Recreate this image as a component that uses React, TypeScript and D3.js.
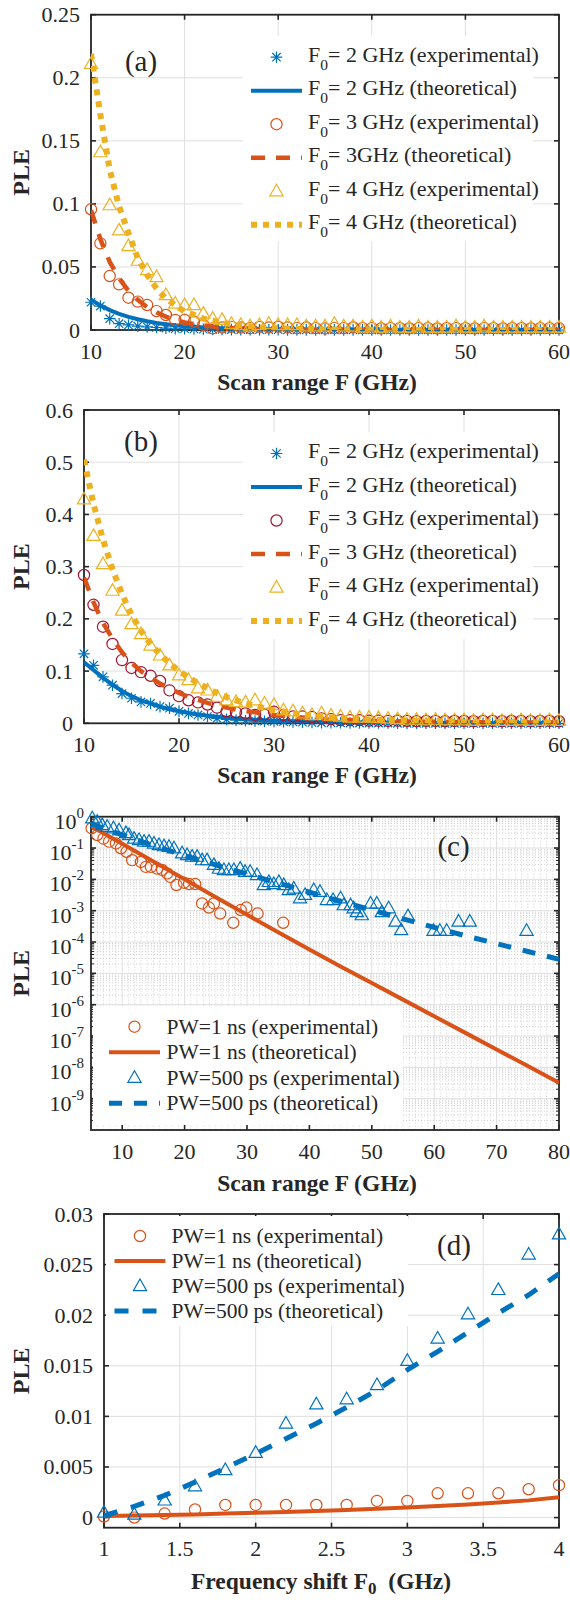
import React from "react";
import * as d3 from "d3";

const FONT = '"Liberation Serif", "Times New Roman", "DejaVu Serif", serif';
const BLUE = "#0072BD";
const ORANGE = "#D95319";
const YELLOW = "#EDB120";
const DARKRED = "#A2142F";
const AXIS = "#262626";
const GRID = "#dfdfdf";
const MINOR = "#c8c8c8";

// ---------- Panel (a) / (b) : scan range F (GHz) ----------
const scanRange = [10, 11, 12, 13, 14, 15, 16, 17, 18, 19, 20, 21, 22, 23, 24, 25, 26, 27, 28, 29, 30, 31, 32, 33, 34, 35, 36, 37, 38, 39, 40, 41, 42, 43, 44, 45, 46, 47, 48, 49, 50, 51, 52, 53, 54, 55, 56, 57, 58, 59, 60];

const aExpF2 = [0.022, 0.019, 0.009, 0.005, 0.004, 0.003, 0.0025, 0.002, 0.0015, 0.001, 0.001, 0.0008, 0.0006, 0.0005, 0.0004, 0.0003, 0.0003, 0.0002, 0.0002, 0.0002, 0.0002, 0.0001, 0.0001, 0.0001, 0.0001, 0.0001, 0.0001, 0.0001, 0.0001, 0.0001, 0.0001, 0, 0, 0, 0, 0, 0, 0, 0, 0, 0, 0, 0, 0, 0, 0, 0, 0, 0, 0, 0];
const aTheoF2 = [0.024, 0.0195, 0.0158, 0.0128, 0.0104, 0.0085, 0.0069, 0.0056, 0.0046, 0.0037, 0.003, 0.0025, 0.002, 0.0016, 0.0013, 0.0011, 0.0009, 0.0007, 0.0006, 0.0005, 0.0004, 0.0003, 0.0003, 0.0002, 0.0002, 0.0002, 0.0001, 0.0001, 0.0001, 0.0001, 0.0001, 0.0001, 0, 0, 0, 0, 0, 0, 0, 0, 0, 0, 0, 0, 0, 0, 0, 0, 0, 0, 0];
const aExpF3 = [0.0957, 0.0687, 0.0428, 0.0362, 0.0256, 0.0225, 0.0198, 0.015, 0.0119, 0.008, 0.008, 0.0066, 0.004, 0.0013, 0.002, 0.0025, 0.002, 0.0015, 0.0025, 0.002, 0.0026, 0.002, 0.0015, 0.002, 0.0015, 0.0012, 0.0015, 0.0015, 0.002, 0.0015, 0.0015, 0.0012, 0.0015, 0.0015, 0.0012, 0.0015, 0.0015, 0.0012, 0.0015, 0.0015, 0.0015, 0.0012, 0.0015, 0.0015, 0.0012, 0.0015, 0.0015, 0.0012, 0.0015, 0.0015, 0.0015];
const aTheoF3 = [0.095, 0.072, 0.054, 0.041, 0.031, 0.024, 0.018, 0.014, 0.0105, 0.008, 0.006, 0.0047, 0.0036, 0.0027, 0.0021, 0.0016, 0.0012, 0.0009, 0.0007, 0.0005, 0.0004, 0.0003, 0.0002, 0.0002, 0.0001, 0.0001, 0.0001, 0.0001, 0, 0, 0, 0, 0, 0, 0, 0, 0, 0, 0, 0, 0, 0, 0, 0, 0, 0, 0, 0, 0, 0, 0];
const aExpF4 = [0.211, 0.141, 0.099, 0.079, 0.0666, 0.055, 0.0476, 0.042, 0.0277, 0.021, 0.0198, 0.0198, 0.013, 0.009, 0.008, 0.005, 0.004, 0.003, 0.004, 0.005, 0.004, 0.004, 0.004, 0.003, 0.003, 0.003, 0.005, 0.003, 0.003, 0.002, 0.003, 0.002, 0.003, 0.002, 0.002, 0.003, 0.002, 0.002, 0.002, 0.003, 0.002, 0.002, 0.003, 0.002, 0.002, 0.002, 0.002, 0.002, 0.002, 0.002, 0.002];
const aTheoF4 = [0.219, 0.171, 0.127, 0.098, 0.077, 0.057, 0.0436, 0.033, 0.025, 0.0198, 0.0145, 0.012, 0.009, 0.0074, 0.0058, 0.0045, 0.0035, 0.0028, 0.0022, 0.0017, 0.0013, 0.001, 0.0008, 0.0006, 0.0005, 0.0004, 0.0003, 0.0003, 0.0002, 0.0002, 0.0002, 0.0001, 0.0001, 0.0001, 0.0001, 0.0001, 0.0001, 0, 0, 0, 0, 0, 0, 0, 0, 0, 0, 0, 0, 0, 0];

const bExpF2 = [0.133, 0.111, 0.089, 0.073, 0.057, 0.048, 0.041, 0.038, 0.032, 0.029, 0.023, 0.019, 0.016, 0.013, 0.0095, 0.0076, 0.006, 0.005, 0.0045, 0.004, 0.0035, 0.003, 0.0025, 0.002, 0.0015, 0.001, 0.001, 0.001, 0.0005, 0.0005, 0.0005, 0.0005, 0.0005, 0, 0, 0, 0, 0, 0, 0, 0, 0, 0, 0, 0, 0, 0, 0, 0, 0, 0];
const bTheoF2 = [0.117, 0.102, 0.087, 0.074, 0.062, 0.052, 0.044, 0.038, 0.032, 0.027, 0.023, 0.0197, 0.017, 0.0146, 0.0125, 0.0107, 0.0092, 0.0079, 0.0068, 0.0058, 0.005, 0.0043, 0.0037, 0.0032, 0.0028, 0.0024, 0.0021, 0.0018, 0.0016, 0.0014, 0.0012, 0.0011, 0.001, 0.0009, 0.0008, 0.0007, 0.0006, 0.0006, 0.0005, 0.0005, 0.0004, 0.0004, 0.0004, 0.0003, 0.0003, 0.0003, 0.0003, 0.0002, 0.0002, 0.0002, 0.0002];
const bExpF3 = [0.284, 0.227, 0.185, 0.152, 0.121, 0.106, 0.098, 0.091, 0.081, 0.063, 0.052, 0.044, 0.04, 0.036, 0.03, 0.023, 0.021, 0.019, 0.016, 0.017, 0.022, 0.016, 0.013, 0.013, 0.012, 0.0095, 0.008, 0.006, 0.006, 0.006, 0.005, 0.005, 0.0045, 0.005, 0.0045, 0.004, 0.0045, 0.0045, 0.004, 0.0045, 0.0045, 0.004, 0.0045, 0.0045, 0.004, 0.0045, 0.0045, 0.004, 0.0045, 0.0045, 0.004];
const bTheoF3 = [0.279, 0.232, 0.192, 0.162, 0.136, 0.116, 0.1, 0.088, 0.076, 0.067, 0.058, 0.051, 0.045, 0.039, 0.034, 0.03, 0.026, 0.0235, 0.021, 0.018, 0.016, 0.014, 0.0125, 0.011, 0.0097, 0.0086, 0.0077, 0.0069, 0.0062, 0.0055, 0.005, 0.0046, 0.0042, 0.0039, 0.0036, 0.0033, 0.0031, 0.0029, 0.0027, 0.0025, 0.0023, 0.0022, 0.0021, 0.002, 0.0019, 0.0018, 0.0017, 0.0016, 0.0015, 0.0014, 0.0013];
const bExpF4 = [0.429, 0.359, 0.305, 0.254, 0.216, 0.19, 0.171, 0.149, 0.13, 0.111, 0.092, 0.083, 0.067, 0.063, 0.051, 0.044, 0.041, 0.04, 0.044, 0.038, 0.035, 0.025, 0.023, 0.019, 0.016, 0.019, 0.015, 0.013, 0.011, 0.011, 0.011, 0.01, 0.009, 0.008, 0.007, 0.007, 0.006, 0.007, 0.006, 0.006, 0.006, 0.005, 0.006, 0.006, 0.005, 0.005, 0.006, 0.005, 0.005, 0.006, 0.005];
const bTheoF4 = [0.505, 0.42, 0.352, 0.295, 0.248, 0.208, 0.177, 0.152, 0.132, 0.115, 0.1, 0.088, 0.077, 0.067, 0.058, 0.05, 0.044, 0.038, 0.033, 0.029, 0.025, 0.022, 0.019, 0.0167, 0.0147, 0.013, 0.0115, 0.0102, 0.0091, 0.0082, 0.0074, 0.0067, 0.0061, 0.0056, 0.0051, 0.0047, 0.0043, 0.004, 0.0037, 0.0034, 0.0032, 0.003, 0.0028, 0.0026, 0.0025, 0.0024, 0.0023, 0.0022, 0.0021, 0.002, 0.002];

// ---------- Panel (c) : log scale ----------
const cExp1ns_F = [5.1, 6.0, 7.0, 7.9, 9.0, 9.8, 10.7, 11.6, 13.0, 13.8, 14.6, 15.6, 16.4, 17.2, 17.7, 18.7, 19.9, 20.7, 21.7, 22.8, 23.9, 24.7, 25.7, 27.8, 29.0, 29.9, 31.7, 35.8];
const cExp1ns_PLE = [0.43, 0.26, 0.2, 0.16, 0.14, 0.098, 0.076, 0.041, 0.036, 0.025, 0.025, 0.022, 0.02, 0.0155, 0.012, 0.0066, 0.0078, 0.0071, 0.0071, 0.0017, 0.00126, 0.0017, 0.00081, 0.00041, 0.00105, 0.00126, 0.00081, 0.00041];
const cExp500_F = [5.2, 6.0, 6.8, 7.6, 8.6, 9.5, 10.6, 11.1, 11.9, 12.7, 13.5, 14.3, 15.1, 15.9, 16.7, 17.5, 18.3, 19.6, 20.4, 21.2, 22.0, 22.8, 23.6, 24.7, 25.5, 26.3, 27.1, 27.9, 28.9, 29.7, 30.5, 31.6, 32.7, 33.5, 34.3, 35.1, 35.9, 36.7, 37.5, 38.5, 39.3, 40.7, 41.7, 42.8, 43.8, 45.0, 45.5, 46.6, 47.1, 47.6, 48.4, 49.8, 50.8, 51.6, 52.7, 53.8, 54.7, 55.8, 59.9, 60.9, 62.0, 63.9, 65.7, 74.8];
const cExp500_PLE = [0.89, 0.69, 0.54, 0.48, 0.43, 0.37, 0.3, 0.26, 0.2, 0.18, 0.16, 0.16, 0.14, 0.125, 0.115, 0.11, 0.098, 0.068, 0.06, 0.053, 0.053, 0.041, 0.041, 0.029, 0.022, 0.02, 0.02, 0.02, 0.022, 0.0175, 0.0175, 0.0138, 0.0066, 0.0083, 0.0071, 0.0083, 0.0066, 0.0046, 0.0051, 0.0025, 0.0032, 0.0046, 0.004, 0.0022, 0.0022, 0.0025, 0.0015, 0.0015, 0.0012, 0.0009, 0.00072, 0.0017, 0.0017, 0.0009, 0.0012, 0.00045, 0.00024, 0.00067, 0.00023, 0.00023, 0.00023, 0.00045, 0.00045, 0.00023];
const cTheo_F = [5, 10, 15, 20, 25, 30, 35, 40, 45, 50, 55, 60, 65, 70, 75, 80];
const cTheo1ns = [0.5, 0.138, 0.0372, 0.01, 0.00269, 7.4e-4, 2.04e-4, 5.75e-5, 1.66e-5, 4.9e-6, 1.45e-6, 4.27e-7, 1.26e-7, 3.7e-8, 1.1e-8, 3.2e-9];
const cTheo500 = [0.6, 0.263, 0.12, 0.0575, 0.0288, 0.0148, 0.0076, 0.0039, 0.002, 0.00105, 5.5e-4, 2.95e-4, 1.58e-4, 8.9e-5, 5.0e-5, 2.8e-5];

// ---------- Panel (d) : frequency shift ----------
const freqShift = [1, 1.2, 1.4, 1.6, 1.8, 2, 2.2, 2.4, 2.6, 2.8, 3, 3.2, 3.4, 3.6, 3.8, 4];
const dExp1ns = [0.0001, 0, 0.0004, 0.0008, 0.00125, 0.00125, 0.00125, 0.00125, 0.00125, 0.00165, 0.00165, 0.0024, 0.0024, 0.0024, 0.0028, 0.0032];
const dTheo1ns = [0.00015, 0.0002, 0.00025, 0.0003, 0.0004, 0.00048, 0.00056, 0.00065, 0.00075, 0.00088, 0.001, 0.00115, 0.0013, 0.0015, 0.0017, 0.002];
const dExp500 = [0.0005, 0.0003, 0.0017, 0.0031, 0.0047, 0.0064, 0.0093, 0.0112, 0.0117, 0.0131, 0.0155, 0.0177, 0.0201, 0.0225, 0.026, 0.028];
const dTheo500 = [0.0002, 0.0011, 0.0022, 0.0035, 0.0049, 0.0063, 0.0078, 0.0093, 0.0109, 0.0126, 0.0146, 0.0164, 0.0183, 0.0202, 0.022, 0.0241];

// ---------- ticks ----------
const abXTicks = [10, 20, 30, 40, 50, 60];
const aYTicks = [0, 0.05, 0.1, 0.15, 0.2, 0.25];
const aYLabels = ["0", "0.05", "0.1", "0.15", "0.2", "0.25"];
const bYTicks = [0, 0.1, 0.2, 0.3, 0.4, 0.5, 0.6];
const bYLabels = ["0", "0.1", "0.2", "0.3", "0.4", "0.5", "0.6"];
const cXTicks = [10, 20, 30, 40, 50, 60, 70, 80];
const cYExps = [0, -1, -2, -3, -4, -5, -6, -7, -8, -9];
const dXTicks = [1, 1.5, 2, 2.5, 3, 3.5, 4];
const dXLabels = ["1", "1.5", "2", "2.5", "3", "3.5", "4"];
const dYTicks = [0, 0.005, 0.01, 0.015, 0.02, 0.025, 0.03];
const dYLabels = ["0", "0.005", "0.01", "0.015", "0.02", "0.025", "0.03"];

type MarkerKind = "star" | "circle" | "triangle";

function Marker({ kind, x, y, color }: { kind: MarkerKind; x: number; y: number; color: string }) {
  if (kind === "circle") return <circle cx={x} cy={y} r={5.6} fill="none" stroke={color} strokeWidth={1.2} />;
  if (kind === "triangle")
    return <path d={`M${x},${y - 7}L${x + 6.6},${y + 4.6}L${x - 6.6},${y + 4.6}Z`} fill="none" stroke={color} strokeWidth={1.2} />;
  const r = 5.8, q = r * 0.72;
  return (
    <path
      d={`M${x - r},${y}L${x + r},${y}M${x},${y - r}L${x},${y + r}M${x - q},${y - q}L${x + q},${y + q}M${x - q},${y + q}L${x + q},${y - q}`}
      stroke={color}
      strokeWidth={1.2}
    />
  );
}

type Series =
  | { type: "marker"; x: number[]; y: number[]; color: string; marker: MarkerKind }
  | { type: "line"; x: number[]; y: number[]; color: string; width: number; dash?: string };

type LegendItem = { sym: Series; label: React.ReactNode };

interface PanelProps {
  id: string;
  left: number; right: number; top: number; bottom: number;
  xDomain: [number, number];
  yDomain: [number, number];
  yLog?: boolean;
  xTicks: number[]; xLabels: string[];
  yTicks: number[]; yLabels?: string[]; yExps?: number[];
  series: Series[];
  legend: { bg: [number, number, number, number]; x0: number; x1: number; xm: number; xt: number; base0: number; step: number; symDy: number; fs: number; items: LegendItem[] };
  tag: string; tagX: number; tagY: number;
  xlabel: React.ReactNode; xlabelX: number; xlabelY: number;
}

const txt = { fontFamily: FONT } as React.CSSProperties;

function Panel(p: PanelProps) {
  const x = d3.scaleLinear().domain(p.xDomain).range([p.left, p.right]);
  const y = p.yLog
    ? d3.scaleLog().domain(p.yDomain).range([p.bottom, p.top])
    : d3.scaleLinear().domain(p.yDomain).range([p.bottom, p.top]);
  const w = p.right - p.left, h = p.bottom - p.top;
  const clipId = `clip-${p.id}`;
  const tk = 5;

  const minorX: number[] = [];
  const minorY: number[] = [];
  if (p.yLog) {
    for (let v = Math.ceil(p.xDomain[0]); v <= p.xDomain[1]; v += 1) if (v % 10 !== 0) minorX.push(v);
    for (let e = -10; e < 0; e++) for (let m = 2; m <= 9; m++) minorY.push(m * Math.pow(10, e));
  }

  return (
    <g>
      <defs>
        <clipPath id={clipId}>
          <rect x={p.left} y={p.top} width={w} height={h} />
        </clipPath>
      </defs>
      <rect x={p.left} y={p.top} width={w} height={h} fill="#fff" />
      {minorX.map((v) => (
        <line key={`mx${v}`} x1={x(v)} x2={x(v)} y1={p.top} y2={p.bottom} stroke={MINOR} strokeWidth={0.8} strokeDasharray="1,2" />
      ))}
      {minorY.map((v, i) => (
        <line key={`my${i}`} x1={p.left} x2={p.right} y1={y(v)} y2={y(v)} stroke={MINOR} strokeWidth={0.8} strokeDasharray="1,2" />
      ))}
      {p.xTicks.map((v) => (
        <line key={`gx${v}`} x1={x(v)} x2={x(v)} y1={p.top} y2={p.bottom} stroke={GRID} strokeWidth={1} />
      ))}
      {p.yTicks.map((v) => (
        <line key={`gy${v}`} x1={p.left} x2={p.right} y1={y(v)} y2={y(v)} stroke={GRID} strokeWidth={1} />
      ))}
      {p.xTicks.map((v) => (
        <g key={`tx${v}`}>
          <line x1={x(v)} x2={x(v)} y1={p.bottom} y2={p.bottom - tk} stroke={AXIS} strokeWidth={1.6} />
          <line x1={x(v)} x2={x(v)} y1={p.top} y2={p.top + tk} stroke={AXIS} strokeWidth={1.6} />
        </g>
      ))}
      {p.yTicks.map((v) => (
        <g key={`ty${v}`}>
          <line x1={p.left} x2={p.left + tk} y1={y(v)} y2={y(v)} stroke={AXIS} strokeWidth={1.6} />
          <line x1={p.right} x2={p.right - tk} y1={y(v)} y2={y(v)} stroke={AXIS} strokeWidth={1.6} />
        </g>
      ))}
      {minorY.map((v, i) => (
        <g key={`tmy${i}`}>
          <line x1={p.left} x2={p.left + 3} y1={y(v)} y2={y(v)} stroke={AXIS} strokeWidth={1} />
          <line x1={p.right} x2={p.right - 3} y1={y(v)} y2={y(v)} stroke={AXIS} strokeWidth={1} />
        </g>
      ))}
      <rect x={p.left} y={p.top} width={w} height={h} fill="none" stroke={AXIS} strokeWidth={1.8} />

      {p.series.map((s, i) => {
        if (s.type === "line") {
          const line = d3.line<number>().x((_, j) => x(s.x[j])).y((v) => y(v));
          return (
            <path key={i} d={line(s.y) || ""} fill="none" stroke={s.color} strokeWidth={s.width} strokeDasharray={s.dash} clipPath={`url(#${clipId})`} />
          );
        }
        return (
          <g key={i}>
            {s.y.map((v, j) => (
              <Marker key={j} kind={s.marker} x={x(s.x[j])} y={y(v)} color={s.color} />
            ))}
          </g>
        );
      })}

      {p.xTicks.map((v, i) => (
        <text key={`lx${v}`} x={x(v)} y={p.bottom + 28.5} textAnchor="middle" fontSize={22} style={txt} fill={AXIS}>
          {p.xLabels[i]}
        </text>
      ))}
      {p.yLabels &&
        p.yTicks.map((v, i) => (
          <text key={`ly${v}`} x={p.left - 11} y={y(v) + 7.5} textAnchor="end" fontSize={22} style={txt} fill={AXIS}>
            {p.yLabels![i]}
          </text>
        ))}
      {p.yExps &&
        p.yTicks.map((v, i) => (
          <text key={`le${v}`} x={p.left - 7} y={y(v) + 12} textAnchor="end" fontSize={22} style={txt} fill={AXIS}>
            10
            <tspan fontSize={15} dy={-11}>{String(p.yExps![i])}</tspan>
          </text>
        ))}

      <text
        x={29.5}
        y={(p.top + p.bottom) / 2}
        transform={`rotate(-90, 29.5, ${(p.top + p.bottom) / 2})`}
        textAnchor="middle"
        fontSize={24}
        fontWeight="bold"
        style={txt}
        fill={AXIS}
      >
        PLE
      </text>
      <text x={p.xlabelX} y={p.xlabelY} textAnchor="middle" fontSize={23.5} fontWeight="bold" style={txt} fill={AXIS}>
        {p.xlabel}
      </text>

      <rect x={p.legend.bg[0]} y={p.legend.bg[1]} width={p.legend.bg[2]} height={p.legend.bg[3]} fill="#fff" />
      {p.legend.items.map((it, i) => {
        const by = p.legend.base0 + i * p.legend.step;
        const sy = by + p.legend.symDy;
        const s = it.sym;
        return (
          <g key={`lg${i}`}>
            {s.type === "line" ? (
              <line x1={p.legend.x0} x2={p.legend.x1} y1={sy} y2={sy} stroke={s.color} strokeWidth={s.width} strokeDasharray={s.dash} />
            ) : (
              <Marker kind={s.marker} x={p.legend.xm} y={sy} color={s.color} />
            )}
            <text x={p.legend.xt} y={by} fontSize={p.legend.fs} style={txt} fill={AXIS}>
              {it.label}
            </text>
          </g>
        );
      })}

      <text x={p.tagX} y={p.tagY} textAnchor="middle" fontSize={29} style={txt} fill={AXIS}>
        {p.tag}
      </text>
    </g>
  );
}

function F0(rest: string) {
  return (
    <>
      F<tspan fontSize={15.5} dy={8}>0</tspan>
      <tspan dy={-8}>{rest}</tspan>
    </>
  );
}

export default function App() {
  const abLegendX = { x0: 251, x1: 302, xm: 276.5, xt: 308, step: 33.5, symDy: -4.5, fs: 22 };

  const aSeries: Series[] = [
    { type: "marker", x: scanRange, y: aExpF2, color: BLUE, marker: "star" },
    { type: "line", x: scanRange, y: aTheoF2, color: BLUE, width: 4 },
    { type: "marker", x: scanRange, y: aExpF3, color: ORANGE, marker: "circle" },
    { type: "line", x: scanRange, y: aTheoF3, color: ORANGE, width: 4.5, dash: "14,11" },
    { type: "marker", x: scanRange, y: aExpF4, color: YELLOW, marker: "triangle" },
    { type: "line", x: scanRange, y: aTheoF4, color: YELLOW, width: 6, dash: "6,6" },
  ];
  const bSeries: Series[] = [
    { type: "marker", x: scanRange, y: bExpF2, color: BLUE, marker: "star" },
    { type: "line", x: scanRange, y: bTheoF2, color: BLUE, width: 4 },
    { type: "marker", x: scanRange, y: bExpF3, color: DARKRED, marker: "circle" },
    { type: "line", x: scanRange, y: bTheoF3, color: ORANGE, width: 4.5, dash: "14,11" },
    { type: "marker", x: scanRange, y: bExpF4, color: YELLOW, marker: "triangle" },
    { type: "line", x: scanRange, y: bTheoF4, color: YELLOW, width: 6, dash: "6,6" },
  ];
  const cSeries: Series[] = [
    { type: "marker", x: cExp1ns_F, y: cExp1ns_PLE, color: ORANGE, marker: "circle" },
    { type: "line", x: cTheo_F, y: cTheo1ns, color: ORANGE, width: 4 },
    { type: "marker", x: cExp500_F, y: cExp500_PLE, color: BLUE, marker: "triangle" },
    { type: "line", x: cTheo_F, y: cTheo500, color: BLUE, width: 5, dash: "13,12" },
  ];
  const dSeries: Series[] = [
    { type: "marker", x: freqShift, y: dExp1ns, color: ORANGE, marker: "circle" },
    { type: "line", x: freqShift, y: dTheo1ns, color: ORANGE, width: 4 },
    { type: "marker", x: freqShift, y: dExp500, color: BLUE, marker: "triangle" },
    { type: "line", x: freqShift, y: dTheo500, color: BLUE, width: 5, dash: "14,14" },
  ];

  const scanLabel = "Scan range F (GHz)";

  return (
    <svg width={570} height={1602} style={{ position: "absolute", left: 0, top: 0, background: "#fff", fontFamily: FONT }}>
      <rect x={0} y={0} width={570} height={1602} fill="#fff" />
      <Panel
        id="a" left={91} right={559} top={14.7} bottom={330}
        xDomain={[10, 60]} yDomain={[0, 0.25]}
        xTicks={abXTicks} xLabels={abXTicks.map(String)}
        yTicks={aYTicks} yLabels={aYLabels}
        series={aSeries}
        legend={{
          bg: [243, 36, 290, 205], ...abLegendX, base0: 61.7,
          items: [
            { sym: aSeries[0], label: F0("= 2 GHz (experimental)") },
            { sym: aSeries[1], label: F0("= 2 GHz (theoretical)") },
            { sym: aSeries[2], label: F0("= 3 GHz (experimental)") },
            { sym: aSeries[3], label: F0("= 3GHz (theoretical)") },
            { sym: aSeries[4], label: F0("= 4 GHz (experimental)") },
            { sym: aSeries[5], label: F0("= 4 GHz (theoretical)") },
          ],
        }}
        tag="(a)" tagX={141} tagY={71}
        xlabel={scanLabel} xlabelX={317} xlabelY={389.5}
      />
      <Panel
        id="b" left={84} right={559} top={410} bottom={723.3}
        xDomain={[10, 60]} yDomain={[0, 0.6]}
        xTicks={abXTicks} xLabels={abXTicks.map(String)}
        yTicks={bYTicks} yLabels={bYLabels}
        series={bSeries}
        legend={{
          bg: [243, 432, 290, 207], ...abLegendX, base0: 458,
          items: [
            { sym: bSeries[0], label: F0("= 2 GHz (experimental)") },
            { sym: bSeries[1], label: F0("= 2 GHz (theoretical)") },
            { sym: bSeries[2], label: F0("= 3 GHz (experimental)") },
            { sym: bSeries[3], label: F0("= 3 GHz (theoretical)") },
            { sym: bSeries[4], label: F0("= 4 GHz (experimental)") },
            { sym: bSeries[5], label: F0("= 4 GHz (theoretical)") },
          ],
        }}
        tag="(b)" tagX={141} tagY={451}
        xlabel={scanLabel} xlabelX={317} xlabelY={783}
      />
      <Panel
        id="c" left={91} right={559} top={816.7} bottom={1130}
        xDomain={[5, 80]} yDomain={[1e-10, 1]} yLog
        xTicks={cXTicks} xLabels={cXTicks.map(String)}
        yTicks={cYExps.map((e) => Math.pow(10, e))} yExps={cYExps}
        series={cSeries}
        legend={{
          bg: [93, 1006, 310, 119], x0: 109, x1: 160, xm: 134.5, xt: 166.5, base0: 1033.7, step: 25.5, symDy: -7, fs: 21.5,
          items: [
            { sym: cSeries[0], label: "PW=1 ns (experimental)" },
            { sym: cSeries[1], label: "PW=1 ns (theoretical)" },
            { sym: cSeries[2], label: "PW=500 ps (experimental)" },
            { sym: cSeries[3], label: "PW=500 ps (theoretical)" },
          ],
        }}
        tag="(c)" tagX={453.5} tagY={856}
        xlabel={scanLabel} xlabelX={317} xlabelY={1190.5}
      />
      <Panel
        id="d" left={104} right={559} top={1214} bottom={1527.7}
        xDomain={[1, 4]} yDomain={[-0.001, 0.03]}
        xTicks={dXTicks} xLabels={dXLabels}
        yTicks={dYTicks} yLabels={dYLabels}
        series={dSeries}
        legend={{
          bg: [106, 1216, 302, 110], x0: 114.5, x1: 165.4, xm: 140, xt: 171.6, base0: 1243, step: 25, symDy: -7, fs: 21.5,
          items: [
            { sym: dSeries[0], label: "PW=1 ns (experimental)" },
            { sym: dSeries[1], label: "PW=1 ns (theoretical)" },
            { sym: dSeries[2], label: "PW=500 ps (experimental)" },
            { sym: dSeries[3], label: "PW=500 ps (theoretical)" },
          ],
        }}
        tag="(d)" tagX={454} tagY={1255}
        xlabel={
          <>
            Frequency shift F<tspan fontSize={17} dy={5}>0</tspan>
            <tspan dy={-5}>{"\u00a0 (GHz)"}</tspan>
          </>
        }
        xlabelX={321} xlabelY={1589}
      />
    </svg>
  );
}
